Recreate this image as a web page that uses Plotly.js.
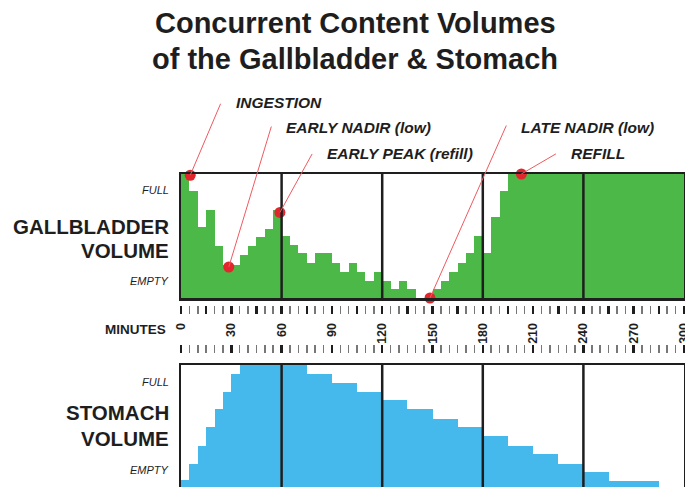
<!DOCTYPE html>
<html><head><meta charset="utf-8">
<script src="https://cdn.plot.ly/plotly-3.0.1.min.js"></script>
<style>html,body{margin:0;padding:0;background:#fff;} #chart{width:685px;height:487px;}</style>
</head><body><div id="chart"></div>
<script>
// ---- data ----
const minutes = [2.5,7.5,12.5,17.5,22.5,27.5,32.5,37.5,42.5,47.5,52.5,57.5,
  62.5,67.5,72.5,77.5,82.5,87.5,92.5,97.5,102.5,107.5,112.5,117.5,
  122.5,127.5,132.5,137.5,142.5,147.5,152.5,157.5,162.5,167.5,172.5,177.5,
  182.5,187.5,192.5,197.5,202.5,207.5,212.5,217.5,222.5,227.5,232.5,237.5,
  242.5,247.5,252.5,257.5,262.5,267.5,272.5,277.5,282.5,287.5,292.5,297.5];
const gallbladder = [100,86,57,71,42,27,27,35,42,49,56,71,
  50,43,36,28,36,36,28,21,28,21,14,21,
  14,7,14,7,0,0,7,14,21,28,36,50,
  36,65,86,100,100,100,100,100,100,100,100,100,
  100,100,100,100,100,100,100,100,100,100,100,100];
const stomach = [6,19,34,49,64,78,93,100,100,100,100,100,
  100,100,100,93,93,93,85,85,85,78,78,78,
  71,71,71,64,64,64,56,56,56,49,49,49,
  42,42,42,34,34,34,27,27,27,19,19,19,
  12,12,12,5,5,5,5,5,5,0,0,0];
const eventLabels = ['INGESTION','EARLY NADIR (low)','EARLY PEAK (refill)','LATE NADIR (low)','REFILL'];
const eventMinutes = [5.5, 28.5, 59, 148.5, 203];
const eventValues = [99, 25, 69, 0, 100];
const dividers = [60,120,180,240];
const labelMinutes = [0,30,60,90,120,150,180,210,240,270,300];
const majorTicks = [0,15,30,45,60,75,90,105,120,135,150,165,180,195,210,225,240,255,270,285,300];

// ---- helpers (layout positions in px) ----
const W = 685, H = 487;
const fx = p => p / W;
const fy = p => (H - p) / H;
const FONT = 'Liberation Sans, Arial, sans-serif';
const INK = '#1e1e1e';
const GREEN = '#4cb848', BLUE = '#45b9eb', RED = '#e3262d', REDLINE = '#ee5a60';

const xdom = [fx(181), fx(684)];
const tickText = majorTicks.map(v => labelMinutes.includes(v) ? String(v) : '');

const data = [
  {type:'bar', x:minutes, y:gallbladder, width:5, marker:{color:GREEN, line:{width:0}},
   xaxis:'x', yaxis:'y', hoverinfo:'skip', showlegend:false},
  {type:'bar', x:minutes, y:stomach, width:5, marker:{color:BLUE, line:{width:0}},
   xaxis:'x2', yaxis:'y2', hoverinfo:'skip', showlegend:false},
  {type:'scatter', mode:'markers', x:eventMinutes, y:eventValues, xaxis:'x', yaxis:'y',
   marker:{color:RED, size:11}, cliponaxis:false, hoverinfo:'skip', showlegend:false},
  {type:'scatter', mode:'markers', x:[0,300], y:[null,null], xaxis:'x3', yaxis:'y', hoverinfo:'skip', showlegend:false},
  {type:'scatter', mode:'markers', x:[0,300], y:[null,null], xaxis:'x4', yaxis:'y', hoverinfo:'skip', showlegend:false}
];

const frame = {showline:true, linecolor:INK, linewidth:2.5, showticklabels:false, ticks:'',
  showgrid:false, zeroline:false, fixedrange:true};
const ruler = {overlaying:'x', anchor:'free', range:[0,300], showline:false, showgrid:false, zeroline:false,
  tickmode:'array', tickvals:majorTicks, ticktext:tickText, ticks:'outside', ticklen:8, tickwidth:2.5, tickcolor:INK,
  minor:{tick0:0, dtick:5, ticks:'outside', ticklen:8, tickwidth:1.5, tickcolor:'#777'}, fixedrange:true};

const layout = {
  width:W, height:H, margin:{l:0,r:0,t:0,b:0}, paper_bgcolor:'#fff', plot_bgcolor:'#fff',
  bargap:0, barmode:'overlay', showlegend:false,
  xaxis: Object.assign({}, frame, {domain:xdom, range:[0,300], anchor:'y', mirror:true}),
  yaxis: Object.assign({}, frame, {domain:[fy(298), fy(174)], range:[0,100], anchor:'x', mirror:true}),
  xaxis2: Object.assign({}, frame, {domain:xdom, range:[0,300], anchor:'y2', side:'top', mirror:false}),
  yaxis2: Object.assign({}, frame, {domain:[0, fy(365)], range:[0,100], anchor:'x2', mirror:true}),
  xaxis3: Object.assign({}, ruler, {position:fy(305), side:'bottom', tickangle:-90, showticklabels:true,
    ticklabelstandoff:4, ticklabeloverflow:'allow', tickfont:{family:FONT, size:12.5, color:INK, weight:'bold'}}),
  xaxis4: Object.assign({}, ruler, {position:fy(353), side:'top', showticklabels:false}),
  shapes: [],
  annotations: []
};

dividers.forEach(v => {
  layout.shapes.push({type:'line', xref:'x', yref:'y domain', x0:v, x1:v, y0:0, y1:1, layer:'above', line:{color:INK, width:2.5}});
  layout.shapes.push({type:'line', xref:'x2', yref:'y2 domain', x0:v, x1:v, y0:0, y1:1, layer:'above', line:{color:INK, width:2.5}});
});

const A = layout.annotations;
const txt = (text, x, y, size, xanchor, extra) => A.push(Object.assign({text, xref:'paper', yref:'paper', x:fx(x), y:fy(y),
  xanchor, yanchor:'middle', showarrow:false, font:{family:FONT, size, color:INK}}, extra||{}));

// title
txt('<b>Concurrent Content Volumes</b>', 355, 23, 29, 'center');
txt('<b>of the Gallbladder &amp; Stomach</b>', 355, 59, 29, 'center');

// side labels
txt('<i>FULL</i>', 171, 190, 11, 'right');
txt('<b>GALLBLADDER</b>', 171, 226, 20.5, 'right');
txt('<b>VOLUME</b>', 171, 251, 20.5, 'right');
txt('<i>EMPTY</i>', 171, 281, 11, 'right');
txt('<i>FULL</i>', 171, 382, 11, 'right');
txt('<b>STOMACH</b>', 171, 412, 20.5, 'right');
txt('<b>VOLUME</b>', 171, 438, 20.5, 'right');
txt('<i>EMPTY</i>', 171, 470, 11, 'right');
txt('<b>MINUTES</b>', 168, 330, 13.5, 'right');

// callouts
const calloutOffsets = [[31,-73],[43,-142],[33,-60],[77,-174],[36,-21]];
const calloutText = [[234,103],[284,127],[325,153],[519,127],[569,153]];
eventLabels.forEach((lab, i) => {
  A.push({x:eventMinutes[i], y:eventValues[i], xref:'x', yref:'y', text:'', showarrow:true,
    arrowhead:0, arrowwidth:1, arrowcolor:REDLINE, ax:calloutOffsets[i][0], ay:calloutOffsets[i][1], standoff:0});
  txt('<b><i>' + lab + '</i></b>', calloutText[i][0], calloutText[i][1], 15.5, 'left');
});

Plotly.newPlot('chart', data, layout, {displayModeBar:false, staticPlot:true});
</script></body></html>
